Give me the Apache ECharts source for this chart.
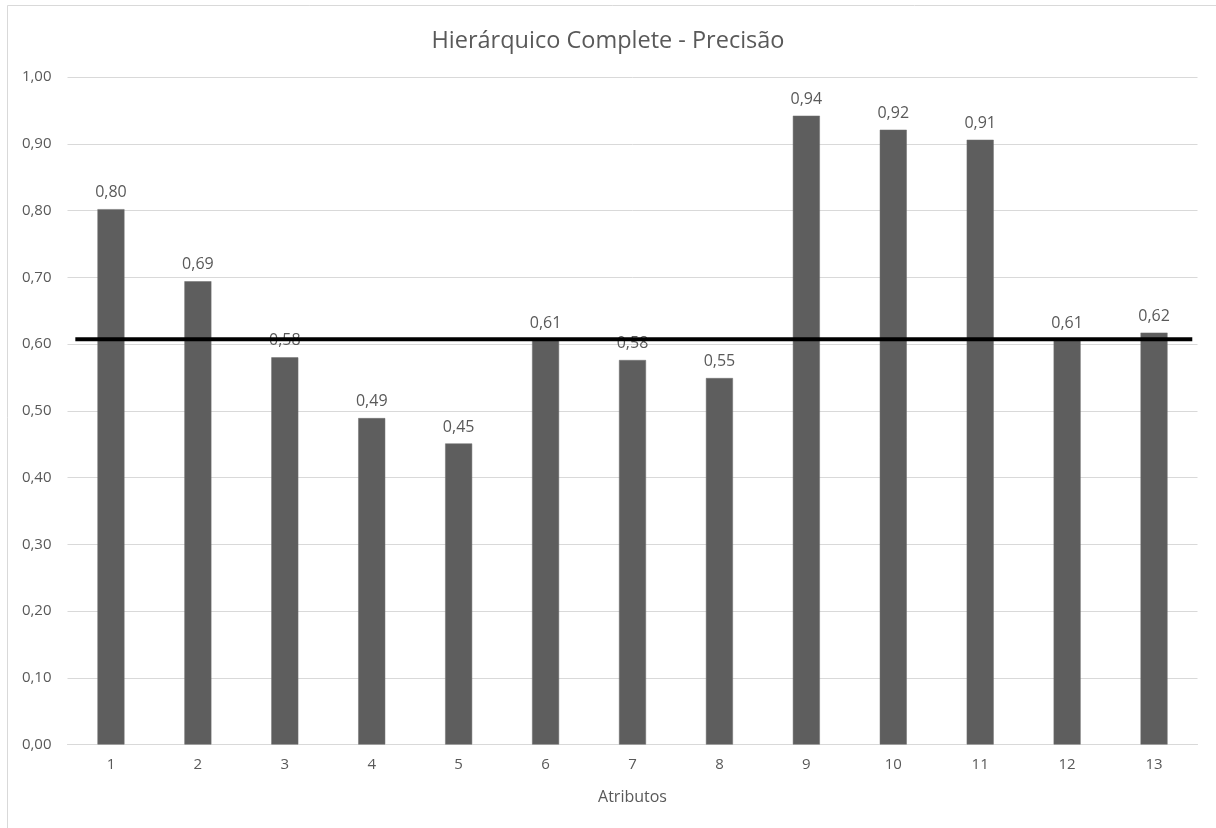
<!DOCTYPE html>
<html>
<head>
<meta charset="utf-8">
<script src="https://cdn.jsdelivr.net/npm/echarts@6/dist/echarts.min.js"></script>
<style>
  html, body { margin: 0; padding: 0; background: #fff; }
  #chart { width: 1216px; height: 828px; }
</style>
</head>
<body>
<div id="chart"></div>
<script>
// Attribute indices along the x axis
const categories = ['1', '2', '3', '4', '5', '6', '7', '8', '9', '10', '11', '12', '13'];
// Precision per attribute (hierarchical clustering, complete linkage)
const precision = [0.802, 0.694, 0.580, 0.489, 0.451, 0.606, 0.576, 0.549, 0.942, 0.921, 0.906, 0.606, 0.617];
// Horizontal reference level and its extent along the category band (in category units)
const referenceLevel = 0.607;
const referenceSpan = [0.09, 12.94];
// Y axis ticks
const yTicks = [0, 0.1, 0.2, 0.3, 0.4, 0.5, 0.6, 0.7, 0.8, 0.9, 1.0];

const fmt = v => v.toFixed(2).replace('.', ',');
const FONT = 'Open Sans';
const TEXT = '#595959';

const chart = echarts.init(document.getElementById('chart'), null, { renderer: 'canvas' });
chart.setOption({
  backgroundColor: '#ffffff',
  animation: false,
  title: {
    text: 'Hierárquico Complete - Precisão',
    left: 'center',
    top: 24,
    textStyle: { fontFamily: FONT, fontSize: 23.5, fontWeight: 'normal', color: TEXT }
  },
  graphic: [{
    type: 'rect',
    shape: { x: 7.5, y: 5.5, width: 1220, height: 830 },
    style: { fill: 'none', stroke: '#d9d9d9', lineWidth: 1 },
    silent: true
  }],
  grid: { left: 67.5, right: 18.5, top: 77, bottom: 83.5 },
  xAxis: [{
    type: 'category',
    data: categories,
    name: 'Atributos',
    nameLocation: 'middle',
    nameGap: 45,
    nameTextStyle: { fontFamily: FONT, fontSize: 16, color: TEXT },
    axisLine: { lineStyle: { color: '#d9d9d9', width: 1 } },
    axisTick: { show: false },
    axisLabel: { fontFamily: FONT, fontSize: 15, color: TEXT, margin: 13 }
  }, {
    type: 'value',
    min: 0,
    max: categories.length,
    show: false
  }],
  yAxis: {
    type: 'value',
    min: yTicks[0],
    max: yTicks[yTicks.length - 1],
    interval: 0.1,
    axisLine: { show: false },
    axisTick: { show: false },
    axisLabel: { fontFamily: FONT, fontSize: 15, color: TEXT, margin: 16, formatter: fmt },
    splitLine: { lineStyle: { color: '#d9d9d9', width: 1 } }
  },
  series: [{
    type: 'bar',
    data: precision,
    barWidth: 27,
    itemStyle: { color: '#5e5e5e', borderColor: '#6e6e6e', borderWidth: 0.5 },
    label: {
      show: true,
      position: 'top',
      distance: 8.5,
      fontFamily: FONT,
      fontSize: 16,
      color: TEXT,
      formatter: p => fmt(p.value)
    },
    z: 2
  }, {
    type: 'line',
    xAxisIndex: 1,
    data: referenceSpan.map(x => [x, referenceLevel]),
    symbol: 'none',
    lineStyle: { color: '#000000', width: 4 },
    z: 5
  }]
});
</script>
</body>
</html>
